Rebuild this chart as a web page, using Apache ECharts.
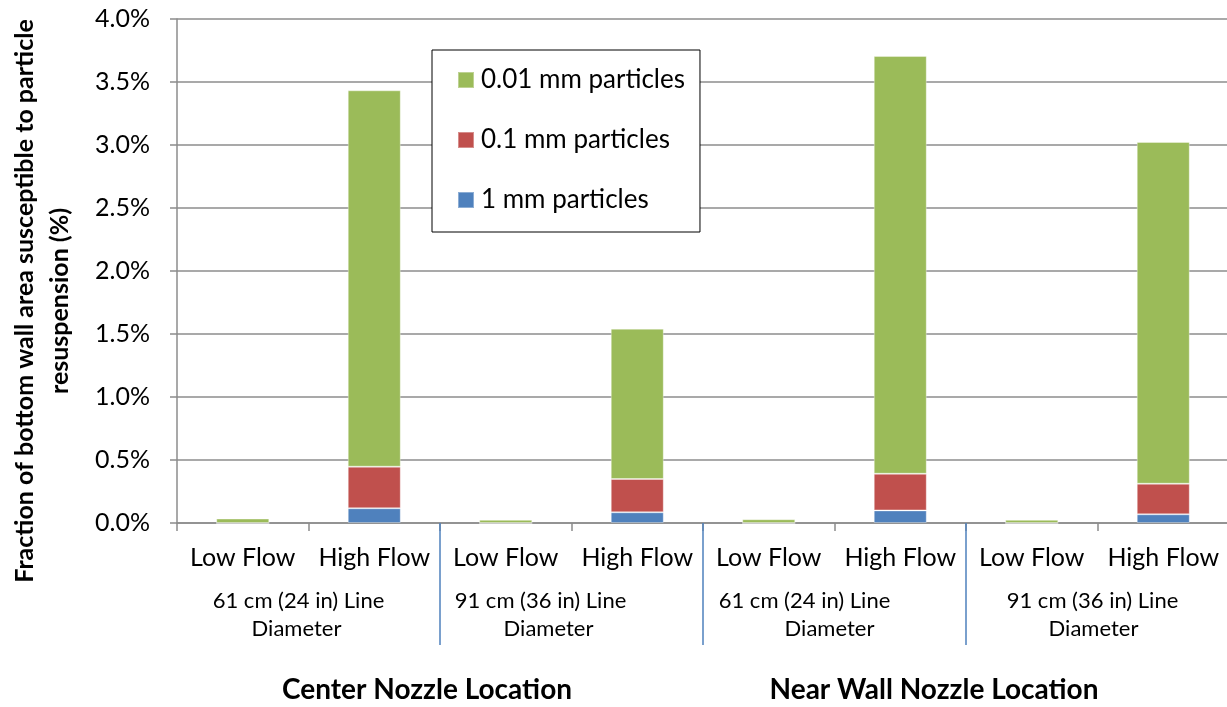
<!DOCTYPE html>
<html>
<head>
<meta charset="utf-8">
<script src="https://cdn.jsdelivr.net/npm/echarts@6/dist/echarts.min.js"></script>
<style>
html,body{margin:0;padding:0;background:#fff;overflow:hidden;}
#chart{width:1229px;height:707px;}
</style>
</head>
<body>
<div id="chart"></div>
<script>
// ---- data ----
const flowCategories = ['Low Flow','High Flow','Low Flow','High Flow','Low Flow','High Flow','Low Flow','High Flow'];
const diameterGroups = ['61 cm (24 in) Line\nDiameter','91 cm (36 in) Line\nDiameter','61 cm (24 in) Line\nDiameter','91 cm (36 in) Line\nDiameter'];
const nozzleLocations = ['Center Nozzle Location','Near Wall Nozzle Location'];
const seriesNames = ['1 mm particles','0.1 mm particles','0.01 mm particles'];
const values1mm   = [0, 0.117, 0, 0.085, 0, 0.100, 0, 0.069];
const values01mm  = [0, 0.330, 0, 0.264, 0, 0.291, 0, 0.243];
const values001mm = [0.035, 2.987, 0.025, 1.193, 0.030, 3.315, 0.025, 2.712];
const yTicks = { min: 0, max: 4.0, interval: 0.5 };
const yTitle = 'Fraction of bottom wall area susceptible to particle\nresuspension (%)';

const FONT = 'Lato, "Open Sans", sans-serif';
const GRID = '#8c8c8c';
const colors = ['#4F81BD', '#C0504D', '#9BBB59'];

// label nudges (px, to the left) mimicking the reference's placement
const groupLine1Shift = [10, 31, 30, 5];
const groupLine2Shift = [12, 23, 5, 4];
const nozzleShift = [13, 32];

const groupRich = {};
groupLine1Shift.forEach((s, i) => {
  groupRich['a' + i] = { fontFamily: FONT, fontSize: 22, color: '#000', lineHeight: 28, padding: [0, 2 * s, 0, 0] };
  groupRich['b' + i] = { fontFamily: FONT, fontSize: 22, color: '#000', lineHeight: 28, padding: [0, 2 * groupLine2Shift[i], 0, 0] };
});
const nozzleRich = {};
nozzleShift.forEach((s, i) => {
  nozzleRich['n' + i] = { fontFamily: FONT, fontSize: 28, fontWeight: 'bold', color: '#000', padding: [0, 2 * s, 0, 0] };
});

const chart = echarts.init(document.getElementById('chart'), null, {renderer: 'canvas'});

const seriesData = [values1mm, values01mm, values001mm];
const series = seriesNames.map((name, i) => ({
  name: name,
  type: 'bar',
  stack: 'total',
  xAxisIndex: 0,
  barWidth: 53,
  data: seriesData[i],
  itemStyle: { color: colors[i], borderColor: 'rgba(255,255,255,0.35)', borderWidth: 1 }
}));

const option = {
  animation: false,
  backgroundColor: '#ffffff',
  textStyle: { fontFamily: FONT },
  grid: { left: 177, right: 0, top: 19, bottom: 184, containLabel: false },
  legend: {
    data: ['0.01 mm particles', '0.1 mm particles', '1 mm particles'],
    orient: 'vertical',
    left: 432,
    top: 50,
    icon: 'rect',
    itemWidth: 16,
    itemHeight: 16,
    itemGap: 30,
    padding: [15, 15, 17, 25],
    backgroundColor: '#fff',
    borderColor: '#000',
    borderWidth: 1,
    borderRadius: 0,
    textStyle: { fontFamily: FONT, fontSize: 26, color: '#000', lineHeight: 30, padding: [0, 0, 0, 2] }
  },
  xAxis: [
    {
      type: 'category',
      data: flowCategories,
      position: 'bottom',
      axisLine: { show: true, lineStyle: { color: GRID, width: 1.5 } },
      axisTick: { show: true, length: 8, lineStyle: { color: GRID, width: 1.5 } },
      axisLabel: { fontFamily: FONT, fontSize: 25, color: '#000', margin: 22, interval: 0 },
      splitLine: { show: false }
    },
    {
      type: 'category',
      data: diameterGroups,
      position: 'bottom',
      gridIndex: 0,
      axisLine: { show: false },
      axisTick: {
        show: true, length: 122,
        interval: function (index) { return index > 0; },
        lineStyle: { color: '#4F81BD', width: 1.5 }
      },
      axisLabel: {
        fontFamily: FONT, fontSize: 22, color: '#000', margin: 64, lineHeight: 28, interval: 0,
        formatter: function (value, index) {
          const parts = value.split('\n');
          return '{a' + index + '|' + parts[0] + '}\n{b' + index + '|' + parts[1] + '}';
        },
        rich: groupRich
      },
      splitLine: { show: false }
    },
    {
      type: 'category',
      data: nozzleLocations,
      position: 'bottom',
      gridIndex: 0,
      axisLine: { show: false },
      axisTick: { show: false },
      axisLabel: {
        fontFamily: FONT, fontSize: 28, fontWeight: 'bold', color: '#000', margin: 153, interval: 0,
        formatter: function (value, index) { return '{n' + index + '|' + value + '}'; },
        rich: nozzleRich
      },
      splitLine: { show: false }
    }
  ],
  yAxis: {
    type: 'value',
    min: yTicks.min,
    max: yTicks.max,
    interval: yTicks.interval,
    axisLine: { show: true, lineStyle: { color: GRID, width: 1.5 } },
    axisTick: { show: true, length: 7, lineStyle: { color: GRID, width: 1.5 } },
    axisLabel: {
      fontFamily: FONT, fontSize: 25, color: '#000', margin: 27,
      formatter: v => v.toFixed(1) + '%'
    },
    splitLine: { show: true, lineStyle: { color: GRID, width: 1.5 } }
  },
  graphic: [
    {
      type: 'text',
      x: 42,
      y: 301,
      rotation: Math.PI / 2,
      style: {
        text: yTitle,
        font: 'bold 25px ' + FONT,
        fill: '#000',
        align: 'center',
        verticalAlign: 'middle',
        lineHeight: 35
      }
    }
  ],
  series: series
};

chart.setOption(option);
</script>
</body>
</html>
